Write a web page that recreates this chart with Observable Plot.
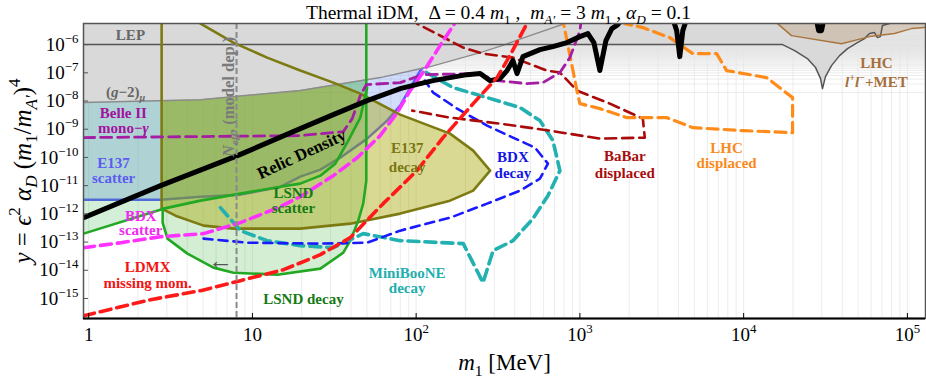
<!DOCTYPE html>
<html><head><meta charset="utf-8">
<script src="https://cdn.jsdelivr.net/npm/d3@7"></script>
<script src="https://cdn.jsdelivr.net/npm/@observablehq/plot@0.6"></script>
<style>body{margin:0;background:#fff} svg{display:block}</style>
</head><body><div id="chart"></div>
<script>
// ---------- axes ----------
const X_MIN = 0.93, X_MAX = 1.29e5, Y_MIN = 1.95e-16, Y_MAX = 5.6e-6, Y_TOP = 1e-4;
const xTicks = [1, 10, 100, 1e3, 1e4, 1e5];
const xTickLabels = ["1", "10", "10^{2}", "10^{3}", "10^{4}", "10^{5}"];
const yTicks = [1e-15, 1e-14, 1e-13, 1e-12, 1e-11, 1e-10, 1e-9, 1e-8, 1e-7, 1e-6];
const yTickLabels = ["10^{−15}", "10^{−14}", "10^{−13}", "10^{−12}", "10^{−11}", "10^{−10}", "10^{−9}", "10^{−8}", "10^{−7}", "10^{−6}"];

// ---------- curves [m1 (MeV), y] ----------
const gm2 = [[0.932,8.8e-9],[4.82,1.12e-8],[19.6,2.34e-8],[60.3,6.76e-8],[122,1.66e-7],[246,5.2e-7],[349,1e-6],[495,2.08e-6],[810,5.56e-6],[1324,1.07e-5]];
const lep = [[0.932,1e-6],[17300,1e-6],[20500,6.12e-7],[24500,3.19e-7],[27500,1.53e-7],[29500,6.23e-8],[30300,2.75e-8],[31600,7.3e-8],[34400,1.8e-7],[38500,4.07e-7],[43100,7.2e-7],[49500,1.18e-6],[54700,1.63e-6],[58700,2.46e-6],[63000,2.67e-6],[65600,1.77e-6],[68400,1.92e-6],[70400,4.72e-6],[77700,5.56e-6],[83300,1.6e-5]];
const lhcMet = [[15500,1.07e-5],[16100,5.56e-6],[19600,2.08e-6],[39600,1.08e-6],[58700,1.92e-6],[83300,2.46e-6],[95900,3.13e-6],[105800,3.69e-6],[127000,4.01e-6],[130000,4.01e-6]];
const relicMain = [[0.932,7.3e-13],[2.75,1e-11],[8.11,1.16e-10],[19.6,1.05e-9],[31.2,3.3e-9],[50.2,1.03e-8],[79.9,2.75e-8],[106,4.14e-8],[127,5.29e-8],[161,6.76e-8],[205,8.6e-8],[246,9.4e-8],[283,5.29e-8],[325,6.23e-8],[359,1.2e-7],[390,2.71e-7],[413,9.4e-8],[449,3.75e-7],[570,6.65e-7],[684,8.5e-7],[834,1.18e-6],[1000,1.92e-6],[1119,2.46e-6],[1217,1.18e-6],[1324,1.2e-7],[1442,1.39e-6],[1567,3.69e-6],[1706,5.12e-6],[1880,1.07e-5]];
const relicDip = [[3640,1.07e-5],[3900,3.13e-6],[4074,3.75e-7],[4250,3.13e-6],[4560,1.07e-5]];
const relicBlob = [[27500,1.07e-5],[28700,3.13e-6],[29900,3.13e-6],[31200,1.07e-5]];
const e137Scatter = [[0.932,3.19e-12],[2.75,3.19e-12],[4.82,4.07e-12],[8.45,4.8e-12],[14.8,9e-12],[19.6,2.09e-11],[26.0,3.69e-11],[34.4,9.8e-11],[50.2,4.64e-10],[66.5,2.02e-9],[79.9,6.87e-9],[95.9,4.49e-8],[106,1.2e-7],[115,2.12e-7]];
const lsndScatter = [[0.932,1.99e-13],[2.87,1.53e-12],[4.82,2.94e-12],[8.45,5.2e-12],[14.8,9.2e-12],[19.6,1.18e-11],[26.0,2.26e-11],[32.1,6.03e-11],[38.5,3.94e-10],[45.6,2.58e-9],[50.2,2.99e-8]];
const lsndDecay = [[2.83,1.07e-5],[2.83,1.53e-12],[2.83,4.88e-13],[3.03,1.32e-13],[4.01,3.88e-14],[5.78,1.24e-14],[7.66,8.2e-15],[14.2,6.98e-15],[26.0,1.14e-14],[35.9,4.2e-14],[39.6,1.12e-13],[44.3,5.74e-13],[47.5,2.3e-12],[49.6,1.5e-11],[49.6,1.07e-5]];
const e137Decay = [[2.79,1.07e-5],[2.79,1.53e-12],[3.39,8.6e-13],[5.03,3.82e-13],[7.66,2.99e-13],[19.6,2.99e-13],[39.6,4.49e-13],[79.9,1.02e-12],[161,2.94e-12],[223,6.65e-12],[283,3.4e-11],[223,1.74e-10],[161,6.98e-10],[79.9,3.3e-9],[45.6,1.83e-8],[31.2,4.49e-8],[19.6,1.2e-7],[12.3,3.46e-7],[7.66,1.18e-6],[4.82,5.56e-6],[4.19,1.07e-5]];
const bdxScatter = [[0.932,6.33e-14],[1.57,9.5e-14],[2.75,1.55e-13],[5.03,1.99e-13],[8.45,4.88e-13],[14.8,1.8e-12],[19.6,4.07e-12],[31.2,2.26e-11],[43.7,9.8e-11],[60.3,5.93e-10],[76.6,3.88e-9],[91.9,2.34e-8],[110,1.02e-7],[140,9.2e-7],[173,6.03e-6],[185,1.16e-5]];
const belle2 = [[0.932,5.04e-10],[19.6,5.93e-10],[35.9,8.2e-10],[40.7,2.38e-9],[45.6,1.55e-8],[49.6,3.82e-8],[79.9,4.49e-8],[110,8.6e-8],[236,9.4e-8],[312,5.29e-8],[475,4.14e-8],[595,4.49e-8],[755,1.02e-7],[869,3.46e-7],[1000,3.13e-6],[1028,1.07e-5]];
const bdxDecay = [[5.03,1.32e-13],[9.33,9.5e-14],[26.0,8.8e-14],[50.2,9.5e-14],[79.9,2.54e-13],[161,7.3e-13],[271,2.3e-12],[431,6.65e-12],[570,1.77e-11],[638,6.03e-11],[532,2.23e-10],[390,5.04e-10],[271,1.34e-9],[178,5.38e-9],[127,1.99e-8],[113,5.29e-8]];
const miniBooNE = [[6.38,1.66e-12],[8.45,2.54e-13],[12.3,1.12e-13],[19.6,7.45e-14],[31.2,6.33e-14],[47.5,1.99e-13],[79.9,1.12e-13],[194,8.8e-14],[256,3.63e-15],[295,4.95e-14],[390,1.12e-13],[517,6.76e-13],[638,4.42e-12],[755,3.4e-11],[684,3.94e-10],[570,2.02e-9],[431,5.83e-9],[271,1.32e-8],[168,2.99e-8],[110,1.2e-7]];
const ldmx = [[0.932,2.45e-16],[1.18,3.4e-16],[2.39,9.06e-16],[4.82,1.89e-15],[8.45,4.28e-15],[15.5,1.05e-14],[26.0,3.57e-14],[39.6,1.43e-13],[62.9,2.3e-12],[101,3.4e-11],[146,5.04e-10],[223,8.09e-9],[312,6.76e-8],[374,4.07e-7],[475,5.56e-6],[532,1.61e-5]];
const babar = [[94.6,1.07e-5],[101,5.56e-6],[194,7.8e-7],[256,4.8e-7],[390,3.46e-7],[629,1.2e-7],[755,1.02e-7],[959,2.34e-8],[1524,8.09e-9],[2423,2.38e-9],[2490,5.04e-10],[1324,4.64e-10],[656,8.9e-10],[325,1.58e-9],[161,2.58e-9],[94.6,4.57e-9]];
const lhcDisplaced = [[776,1.07e-5],[834,1.39e-6],[959,2.34e-8],[1000,8.09e-9],[1324,5.38e-9],[1936,2.58e-9],[3390,2.58e-9],[4887,1.14e-9],[9860,8.9e-10],[19900,7.57e-10],[19900,1.32e-8],[13800,6.76e-8],[7870,1.2e-7],[6842,4.8e-7],[4887,4.8e-7],[3539,1.77e-6],[2423,4.01e-6],[1880,5.56e-6],[1634,1.07e-5]];
const neffMass = [8.0];

// ---------- labels ----------
const labels = [
  {t:"LEP", x:1.80, y:2.08e-6, g:"lep"},
  {t:"(*g*−2)_{*μ*}", x:1.68, y:1.99e-8, g:"lep"},
  {t:"Belle II", x:1.63, y:3.57e-9, g:"belle"},
  {t:"mono−*γ*", x:1.63, y:1.05e-9, g:"belle"},
  {t:"E137", x:1.42, y:6.03e-11, g:"e137s"},
  {t:"scatter", x:1.42, y:1.77e-11, g:"e137s"},
  {t:"BDX", x:2.08, y:8.6e-13, g:"bdxs"},
  {t:"scatter", x:2.08, y:2.54e-13, g:"bdxs"},
  {t:"LDMX", x:2.29, y:1.24e-14, g:"ldmx"},
  {t:"missing mom.", x:2.29, y:3.35e-15, g:"ldmx"},
  {t:"LSND", x:17.8, y:5.2e-12, g:"lsnd"},
  {t:"scatter", x:17.8, y:1.53e-12, g:"lsnd"},
  {t:"LSND decay", x:20.5, y:9.8e-16, g:"lsnd"},
  {t:"E137", x:88.1, y:2.05e-10, g:"e137d"},
  {t:"decay", x:88.1, y:4.35e-11, g:"e137d"},
  {t:"BDX", x:390, y:9.8e-11, g:"bdxd"},
  {t:"decay", x:390, y:2.67e-11, g:"bdxd"},
  {t:"MiniBooNE", x:88.1, y:8.2e-15, g:"mini"},
  {t:"decay", x:88.1, y:2.41e-15, g:"mini"},
  {t:"BaBar", x:1880, y:1.07e-10, g:"babar"},
  {t:"displaced", x:1880, y:2.67e-11, g:"babar"},
  {t:"LHC", x:7870, y:2.05e-10, g:"lhcd"},
  {t:"displaced", x:7870, y:6.03e-11, g:"lhcd"},
  {t:"LHC", x:64700, y:2.12e-7, g:"lhcm"},
  {t:"*l*^{+}*l*^{−}+MET", x:64700, y:4.49e-8, g:"lhcm"}
];
const relicLabel = [{t:"Relic Density", x:20.0, y:1.3e-10}];
const neffLabel = [{t:"*N*_{*eff*}, (model dep.)", x:7.14, y:1.4e-8}];
const arrowLabel = [{t:"←", x:6.38, y:2.19e-14}];
const title = "Thermal iDM,\u00a0\u00a0Δ = 0.4 *m*_{1} ,\u00a0\u00a0*m*_{*A′*} = 3 *m*_{1} , *α*_{*D*} = 0.1";
const xLabel = "*m*_{1} [MeV]";
const yLabel = "*y*\u00a0=\u00a0*ϵ*^{2}\u00a0*α*_{*D*}\u00a0(*m*_{1}/*m*_{*A′*})^{4}";

// ---------- styles ----------
const labelColor = {lep:"#666666", belle:"#a2129f", e137s:"#5b5bf0", bdxs:"#f028f0", ldmx:"#f41414", lsnd:"#157a15", e137d:"#7a7612", bdxd:"#1414e6", mini:"#22aeae", babar:"#a80d0d", lhcd:"#fb8a1c", lhcm:"#a66e3c"};
const X = d => d[0], Y = d => d[1];
const dash = "11,6";
const line = (data, stroke, w, da) => Plot.line(data, {x: X, y: Y, stroke, strokeWidth: w, strokeDasharray: da, clip: true, strokeLinejoin: "round"});
const poly = (data, fill) => Plot.line(data, {x: X, y: Y, fill, stroke: "none", clip: true});
const e137ScatterPoly = e137Scatter.concat([[e137Scatter[e137Scatter.length-1][0], Y_TOP], [e137Scatter[0][0], Y_TOP]]);
const lsndScatterPoly = lsndScatter.concat([[lsndScatter[lsndScatter.length-1][0], Y_TOP], [lsndScatter[0][0], Y_TOP]]);
const grayBoundary = gm2.filter(d => d[0] <= 349).concat(lep.filter(d => d[0] > 349));
const fmtX = d => xTickLabels[xTicks.indexOf(d)];
const fmtY = d => yTickLabels[yTicks.indexOf(d)];

const chart = Plot.plot({
  width: 926, height: 380,
  marginLeft: 83, marginRight: 1, marginTop: 23, marginBottom: 62,
  x: {type: "log", domain: [X_MIN, X_MAX]},
  y: {type: "log", domain: [Y_MIN, Y_MAX]},
  style: {fontFamily: "'Liberation Serif','Times New Roman',serif", background: "#fff", color: "#000"},
  marks: [
    Plot.gridX({ticks: 80, stroke: "#e4e4e4", strokeOpacity: 0.7}),
    Plot.gridY({ticks: 200, stroke: "#e4e4e4", strokeOpacity: 0.7}),
    poly(e137ScatterPoly, "rgba(70,120,240,0.25)"),
    line(e137Scatter, "#5a5aff", 2.5),
    poly(lsndScatterPoly, "rgba(40,175,60,0.2)"),
    poly(lsndDecay, "rgba(40,170,40,0.2)"),
    poly(e137Decay, "rgba(165,165,0,0.42)"),
    Plot.areaY(grayBoundary, {x: X, y1: Y, y2: () => Y_TOP, fill: "#d9d9d9", clip: true}),
    Plot.areaY(lhcMet, {x: X, y1: Y, y2: () => Y_TOP, fill: "rgba(180,130,80,0.25)", clip: true}),
    line(gm2, "#8c8c8c", 1.5),
    line(lep, "#555555", 1.5),
    line(lhcMet, "#a8743c", 1.5),
    line(e137Decay, "#7d7a12", 2.6),
    line(lsndScatter, "#22a822", 2.6),
    line(lsndDecay.slice(1), "#22a822", 2.6),
    line(miniBooNE, "#22b0b0", 3.6, dash),
    line(bdxDecay, "#1a1aff", 2.6, "9,6"),
    line(babar, "#aa0a0a", 2.6, dash),
    line(lhcDisplaced, "#ff8c1a", 3.2, dash),
    line(belle2, "#a41ea4", 2.8, dash),
    line(bdxScatter, "#ff33ff", 3.6, dash),
    line(relicMain, "#000", 5),
    line(relicDip, "#000", 5),
    line(relicBlob, "#000", 5),
    line(ldmx, "#ff1a1a", 3.6, dash),
    Plot.ruleX(neffMass, {stroke: "#8a8a8a", strokeWidth: 2, strokeDasharray: "6,3"}),
    Plot.frame({stroke: "#555", strokeWidth: 1.5}),
    Plot.ruleY([Y_MIN], {stroke: "#000", strokeWidth: 2}),
    Plot.axisX({ticks: xTicks, tickSize: 5, dy: -5, tickFormat: () => "", label: null, stroke: "#000"}),
    Plot.axisX({ticks: xTicks, tickSize: 0, tickPadding: 9, fontSize: 19, tickFormat: fmtX, label: null}),
    Plot.axisY({ticks: yTicks, tickSize: 5, dx: 5, tickFormat: () => "", label: null, stroke: "#555"}),
    Plot.axisY({ticks: yTicks, tickSize: 0, tickPadding: 5, fontSize: 19, tickFormat: fmtY, label: null}),
    Plot.text(labels, {x: "x", y: "y", text: "t", fill: d => labelColor[d.g], fontSize: 15, fontWeight: "bold"}),
    Plot.text(relicLabel, {x: "x", y: "y", text: "t", fill: "#000", fontSize: 17, fontWeight: "bold", rotate: -25}),
    Plot.text(neffLabel, {x: "x", y: "y", text: "t", fill: "#7a7a7a", fontSize: 16.5, fontWeight: "bold", rotate: -90}),
    Plot.text(arrowLabel, {x: "x", y: "y", text: "t", fill: "#555", fontSize: 25}),
    Plot.text([title], {frameAnchor: "top", lineAnchor: "middle", dy: -11, dx: -6, text: d => d, fontSize: 19.5, fill: "#000"}),
    Plot.text([xLabel], {frameAnchor: "bottom", lineAnchor: "middle", dy: 44, text: d => d, fontSize: 23, fill: "#000"}),
    Plot.text([yLabel], {frameAnchor: "left", textAnchor: "middle", lineAnchor: "middle", dx: -61, rotate: -90, text: d => d, fontSize: 25, letterSpacing: 1, fill: "#000"})
  ]
});
document.getElementById("chart").appendChild(chart);

// rich text: *italic*, _{sub}, ^{sup}
const svgNS = "http://www.w3.org/2000/svg";
function richify(el) {
  const src = el.textContent;
  if (!/[_^]\{|\*/.test(src)) return;
  const fs = parseFloat(getComputedStyle(el).fontSize) || 15;
  el.textContent = "";
  const parts = src.split(/([_^]\{[^}]*\}|\*)/).filter(s => s !== "");
  let italic = false, shift = 0;
  for (const p of parts) {
    if (p === "*") { italic = !italic; continue; }
    let txt = p, target = 0, small = false, it = italic;
    if (p[0] === "_" || p[0] === "^") {
      txt = p.slice(2, -1); small = true;
      target = p[0] === "_" ? 0.25 * fs : -0.42 * fs;
      if (txt.includes("*")) { it = true; txt = txt.replace(/\*/g, ""); }
    }
    const ts = document.createElementNS(svgNS, "tspan");
    ts.textContent = txt;
    if (small) ts.setAttribute("font-size", (0.68 * fs).toFixed(1));
    if (it) ts.setAttribute("font-style", "italic");
    const d = target - shift;
    if (Math.abs(d) > 1e-6) ts.setAttribute("dy", d.toFixed(2));
    shift = target;
    el.appendChild(ts);
  }
}
chart.querySelectorAll("text").forEach(richify);
</script>
</body></html>
